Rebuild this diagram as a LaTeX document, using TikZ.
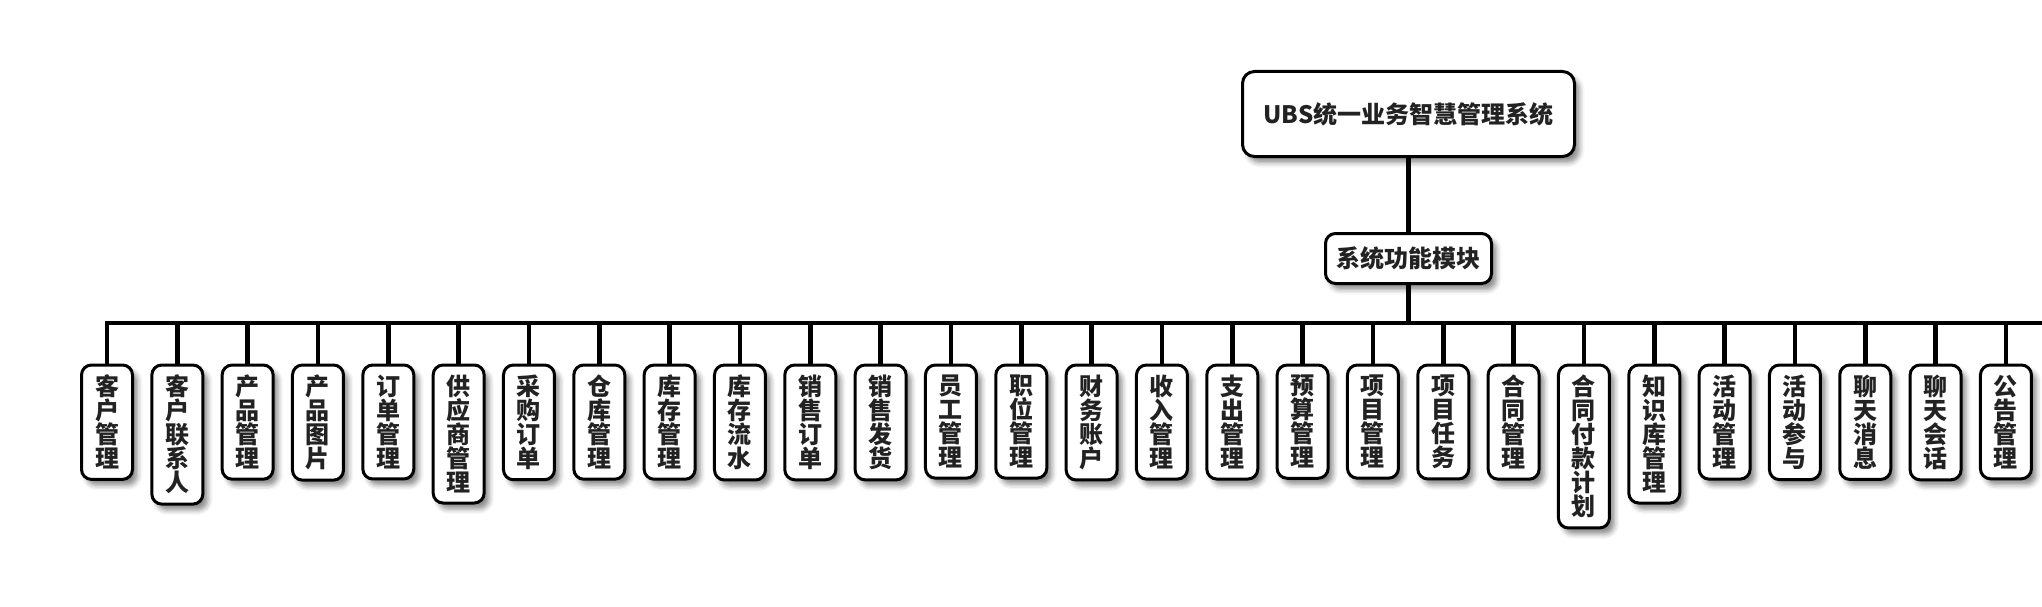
\documentclass[tikz,border=0pt]{standalone}
\usepackage{fontspec}
\setmainfont{Noto Sans CJK SC}
\usetikzlibrary{shadows.blur}
\definecolor{cInk}{HTML}{222222}
\tikzset{
  box/.style   ={rounded corners=10pt,draw=black,line width=3pt,fill=white,
                 text=cInk,align=center,font=\fontsize{24}{24}\selectfont\bfseries,
                 blur shadow={shadow xshift=5pt,shadow yshift=-6pt,
                              shadow blur radius=5pt,shadow opacity=45}},
  topbox/.style={box,rounded corners=12pt,minimum width=332pt,minimum height=85pt,inner sep=0pt},
  midbox/.style={box,minimum width=166pt,minimum height=50pt,inner sep=0pt},
  modbox/.style={box,anchor=north,minimum width=51pt,inner xsep=0pt,inner ysep=10pt},
  ln/.style    ={line width=4.5pt,black},
}
\begin{document}
\begin{tikzpicture}[x=1pt,y=-1pt]
\useasboundingbox (0,0) rectangle (2042,607);
\node[topbox] (sys) at (1408.5,114) {UBS统一业务智慧管理系统};
\node[midbox] (fun) at (1408.5,258.5) {系统功能模块};
\coordinate (hub) at (1408.5,323);
\draw[ln] (sys) -- (fun);
\draw[ln] (fun) -- (hub);
% modules, left to right
\foreach \lbl [count=\i from 0] in {
  {客\\户\\管\\理},{客\\户\\联\\系\\人},{产\\品\\管\\理},{产\\品\\图\\片},
  {订\\单\\管\\理},{供\\应\\商\\管\\理},{采\\购\\订\\单},{仓\\库\\管\\理},
  {库\\存\\管\\理},{库\\存\\流\\水},{销\\售\\订\\单},{销\\售\\发\\货},
  {员\\工\\管\\理},{职\\位\\管\\理},{财\\务\\账\\户},{收\\入\\管\\理},
  {支\\出\\管\\理},{预\\算\\管\\理},{项\\目\\管\\理},{项\\目\\任\\务},
  {合\\同\\管\\理},{合\\同\\付\\款\\计\\划},{知\\识\\库\\管\\理},{活\\动\\管\\理},
  {活\\动\\参\\与},{聊\\天\\消\\息},{聊\\天\\会\\话},{公\\告\\管\\理}}{
  \node[modbox] (m\i) at (107+70.33*\i,363.5) {\lbl};
  \draw[ln] (m\i.north) -- (m\i.north |- hub);
}
\coordinate (barEnd) at (2042,323);
\draw[ln,line cap=rect] (m0.north |- hub) -- (barEnd);
\end{tikzpicture}
\end{document}
